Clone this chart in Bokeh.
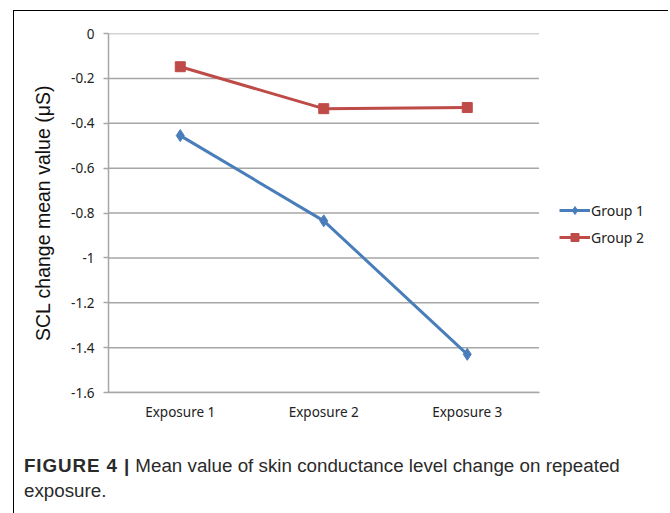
from bokeh.plotting import figure
from bokeh.models import Range1d, Legend, LegendItem, FixedTicker, Div
from bokeh.embed import file_html
from bokeh.resources import INLINE

exposures = ["Exposure 1", "Exposure 2", "Exposure 3"]
group1 = [-0.455, -0.835, -1.43]
group2 = [-0.148, -0.335, -0.330]
y_ticks = [0, -0.2, -0.4, -0.6, -0.8, -1.0, -1.2, -1.4, -1.6]
y_tick_labels = {0: "0", -0.2: "-0.2", -0.4: "-0.4", -0.6: "-0.6", -0.8: "-0.8",
                 -1.0: "-1", -1.2: "-1.2", -1.4: "-1.4", -1.6: "-1.6"}
series_names = ["Group 1", "Group 2"]
caption_bold = "FIGURE 4 |"
caption_line1 = "Mean value of skin conductance level change on repeated"
caption_line2 = "exposure."

BLUE = "#4a7ebb"
RED = "#be4b48"
GRID = "#a6a6a6"
TICK_FONT = "Noto Sans"

# category positions on a numeric axis (1, 2, 3)
x_pos = list(range(1, len(exposures) + 1))
x_lo, x_hi = 0.5, len(exposures) + 0.5

W, H = 655, 440
BL, BR, BT, BB = 94, 8, 22, 59
frame_w = W - BL - BR
cat_px = 143.5                     # pixel width of one category band
x_end = x_lo + frame_w / cat_px     # frame extends right to host the legend

p = figure(width=W, height=H, x_range=Range1d(x_lo, x_end),
           y_range=Range1d(-1.6, 0), output_backend="svg", toolbar_location=None,
           min_border_left=BL, min_border_right=BR, min_border_top=BT,
           min_border_bottom=BB)
p.outline_line_color = None
p.background_fill_color = "white"
p.border_fill_color = "white"
p.styles = {"margin-left": "13px", "margin-top": "10px",
            "border-top": "1.5px solid black", "border-left": "1.5px solid black"}

# y axis
p.yaxis.ticker = FixedTicker(ticks=y_ticks)
p.yaxis.major_label_overrides = y_tick_labels
p.yaxis.axis_line_color = GRID
p.yaxis.axis_line_width = 1.5
p.yaxis.major_tick_line_color = GRID
p.yaxis.major_tick_line_width = 1.5
p.yaxis.major_tick_out = 5
p.yaxis.major_tick_in = 0
p.yaxis.minor_tick_line_color = None
p.yaxis.major_label_text_font = TICK_FONT
p.yaxis.major_label_text_font_size = "13.5px"
p.yaxis.major_label_text_color = "#222222"
p.yaxis.major_label_standoff = 9
p.yaxis.axis_label = "SCL change mean value (\u03bcS)"
p.yaxis.axis_label_text_font = "Liberation Sans"
p.yaxis.axis_label_text_font_size = "19.5px"
p.yaxis.axis_label_text_font_style = "normal"
p.yaxis.axis_label_text_color = "#111111"
p.yaxis.axis_label_standoff = 14

# x axis
p.xaxis.ticker = FixedTicker(ticks=x_pos)
p.xaxis.major_label_overrides = {x: name for x, name in zip(x_pos, exposures)}
p.xaxis.bounds = (x_lo, x_hi)
p.xaxis.axis_line_color = GRID
p.xaxis.axis_line_width = 1.5
p.xaxis.major_tick_line_color = None
p.xaxis.major_tick_out = 0
p.xaxis.major_tick_in = 0
p.xaxis.minor_tick_line_color = None
p.xaxis.major_label_text_font = TICK_FONT
p.xaxis.major_label_text_font_size = "13.5px"
p.xaxis.major_label_text_color = "#222222"
p.xaxis.major_label_standoff = 10

# horizontal gridlines limited to the category area
p.xgrid.grid_line_color = None
p.ygrid.grid_line_color = None
p.segment(x0=[x_lo] * len(y_ticks), x1=[x_hi] * len(y_ticks),
          y0=y_ticks, y1=y_ticks, line_color=GRID, line_width=1.5)

l1 = p.line(x_pos, group1, line_color=BLUE, line_width=3)
m1 = p.scatter(x_pos, group1, marker="diamond", size=12,
               fill_color=BLUE, line_color=BLUE)
l2 = p.line(x_pos, group2, line_color=RED, line_width=3)
m2 = p.scatter(x_pos, group2, marker="square", size=10,
               fill_color=RED, line_color=RED)

legend = Legend(items=[LegendItem(label=series_names[0], renderers=[l1, m1]),
                       LegendItem(label=series_names[1], renderers=[l2, m2])],
                location=(451, 145))
legend.border_line_color = None
legend.background_fill_alpha = 0
legend.padding = 0
legend.margin = 0
legend.spacing = 7
legend.glyph_width = 31
legend.glyph_height = 20
legend.label_height = 20
legend.label_standoff = 1
legend.label_text_font = TICK_FONT
legend.label_text_font_size = "14px"
legend.label_text_color = "#222222"
p.add_layout(legend, "center")

caption = Div(
    text=(f'<span style="font-weight:bold;letter-spacing:0.9px;">{caption_bold}</span> '
          f'{caption_line1}<br>{caption_line2}'),
    width=645, height=72,
    styles={"font-family": "Liberation Sans", "font-size": "18.8px",
            "line-height": "25px", "color": "#2a2a2a", "padding-left": "10px",
            "padding-top": "9px", "margin-top": "-6px", "margin-left": "13px",
            "white-space": "nowrap", "border-left": "1.5px solid black"})

open("out.html", "w").write(file_html([p, caption], INLINE))
